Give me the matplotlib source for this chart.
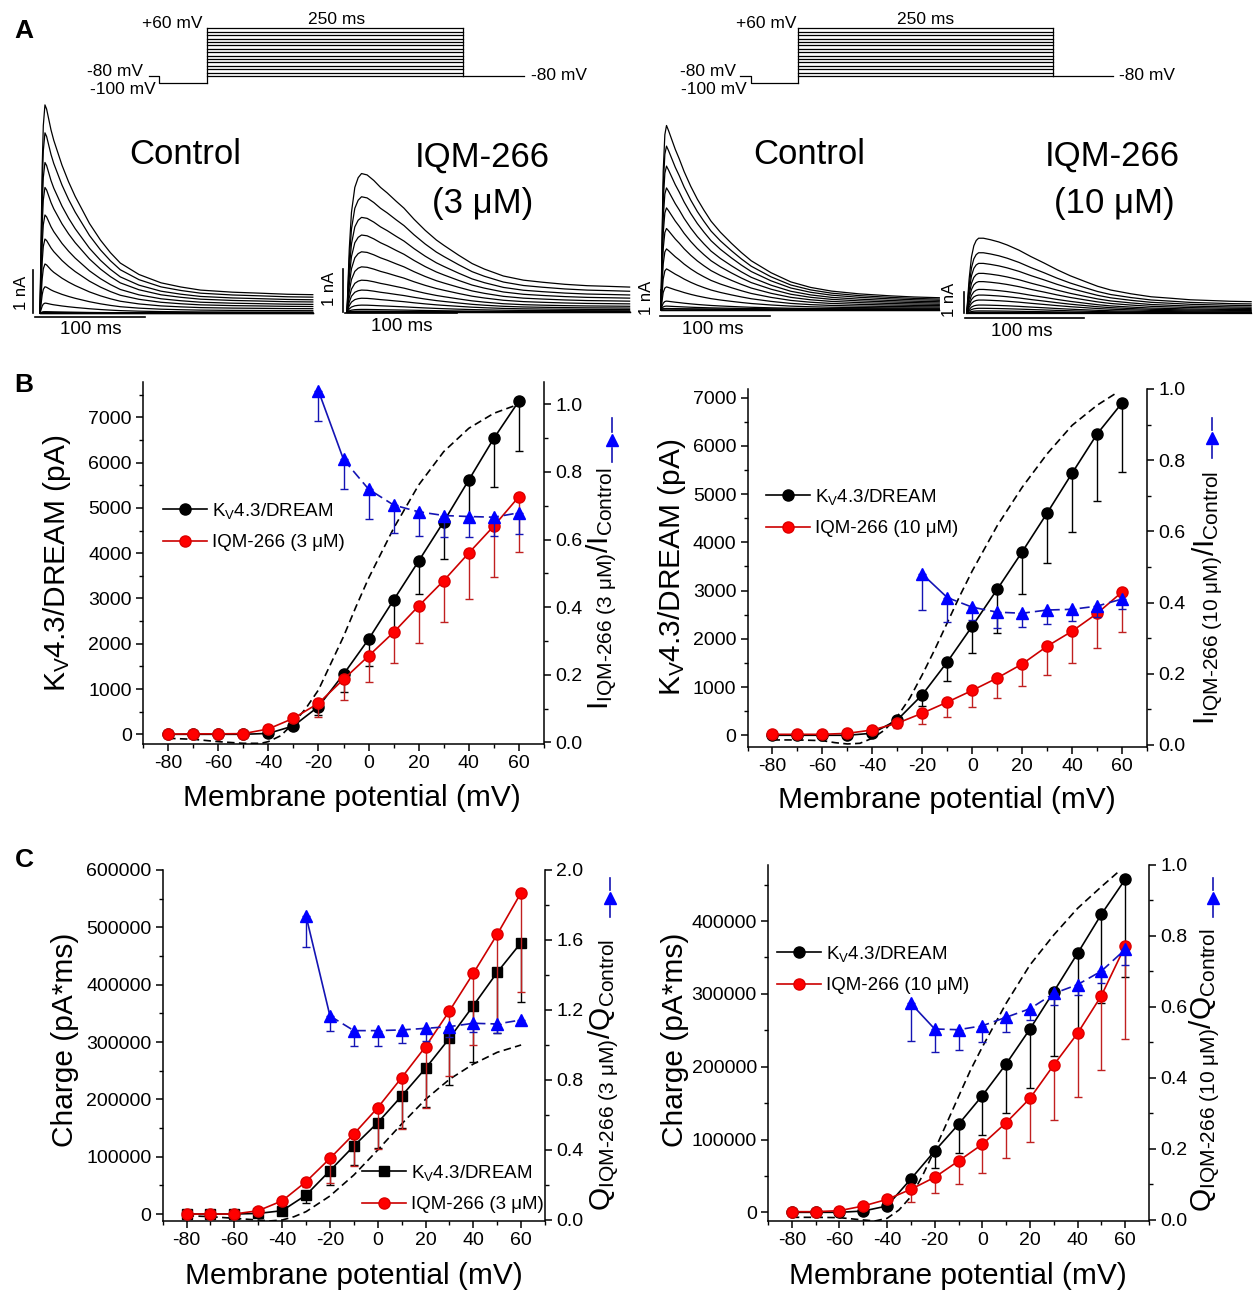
import numpy as np
import matplotlib
matplotlib.use("Agg")
import matplotlib.pyplot as plt
from matplotlib.lines import Line2D
from matplotlib.ticker import MultipleLocator

plt.rcParams['font.family'] = ['Liberation Sans', 'DejaVu Sans']
plt.rcParams['mathtext.fontset'] = 'custom'
plt.rcParams['mathtext.rm'] = 'Liberation Sans'
plt.rcParams['mathtext.it'] = 'Liberation Sans:italic'
plt.rcParams['mathtext.bf'] = 'Liberation Sans:bold'
plt.rcParams['axes.unicode_minus'] = False

W, H = 1258, 1300
BLUE, BLUE_L = '#0000ff', '#1414b4'
RED, RED_L = '#ff0000', '#cc0000'

# ---------------- data: panel A ----------------
# pulse protocol (ms, mV)
prot_t = [0, 10.5, 57, 307, 366]
prot_steps = [-80, -70, -60, -50, -40, -30, -20, -10, 0, 10, 20, 30, 40, 50, 60]

# normalised waveform of the largest sweep, time in ms from pulse onset
ctrl3_t = [0, 1, 2, 3, 4.5, 6, 8, 10, 12.5, 15, 20, 26, 32, 37, 45, 55, 64, 73, 90,
           110, 128, 146, 175, 201, 225, 248]
ctrl3_f = [0, 0.35, 0.7, 0.9, 1.0, 0.98, 0.93, 0.88, 0.83, 0.79, 0.71, 0.63, 0.56, 0.51,
           0.43, 0.35, 0.29, 0.24, 0.185, 0.145, 0.125, 0.11, 0.10, 0.095, 0.09, 0.088]
iqm3_t = [0, 2, 4, 7, 10, 13, 18, 24, 30, 36, 44, 51, 60, 70, 80, 87, 100, 112, 123,
          140, 158, 175, 195, 215, 235, 253]
iqm3_f = [0, 0.45, 0.72, 0.9, 0.97, 1.0, 0.99, 0.95, 0.90, 0.86, 0.80, 0.75, 0.67, 0.59,
          0.52, 0.48, 0.41, 0.35, 0.31, 0.26, 0.23, 0.215, 0.20, 0.19, 0.185, 0.18]
ctrl10_t = [0, 1, 2, 3.5, 5, 7, 10, 13, 16.5, 21, 27, 33, 39, 45.5, 54, 64, 73, 82, 100,
            118, 136, 155, 180, 209, 230, 253]
ctrl10_f = [0, 0.4, 0.75, 0.95, 1.0, 0.97, 0.92, 0.87, 0.82, 0.75, 0.67, 0.6, 0.54, 0.48,
            0.42, 0.36, 0.31, 0.265, 0.2, 0.15, 0.12, 0.10, 0.085, 0.074, 0.068, 0.064]
iqm10_t = [0, 2, 4, 6, 8, 10, 14, 20, 27, 34, 44, 54, 65, 76, 87, 100, 110, 121, 138,
           155, 172, 188, 205, 222, 239]
iqm10_f = [0, 0.45, 0.75, 0.9, 0.97, 1.0, 1.0, 0.98, 0.95, 0.91, 0.84, 0.755, 0.67, 0.58,
           0.50, 0.42, 0.36, 0.31, 0.26, 0.22, 0.2, 0.18, 0.17, 0.16, 0.155]

# peak amplitude of each sweep (nA), +60 mV first
ctrl3_amp = [4.84, 4.19, 3.5, 2.92, 2.28, 1.72, 1.14, 0.61, 0.23, 0.03, 0.02, 0.01, 0, 0, 0]
iqm3_amp = [3.22, 2.68, 2.2, 1.79, 1.4, 1.05, 0.74, 0.51, 0.32, 0.16, 0.06, 0.02, 0.01, 0, 0]
ctrl10_amp = [9.2, 8.17, 7.17, 6.08, 5.08, 4.05, 3.03, 2.03, 1.13, 0.42, 0.17, 0.05, 0.02, 0, 0]
iqm10_amp = [3.46, 2.79, 2.3, 1.84, 1.46, 1.1, 0.84, 0.61, 0.38, 0.23, 0.11, 0.05, 0.02, 0.01, 0]

# ---------------- data: panels B and C ----------------
mv = [-80, -70, -60, -50, -40, -30, -20, -10, 0, 10, 20, 30, 40, 50, 60]

# B, 3 uM
kv_b3 = [0, 0, 0, 0, 20, 184, 611, 1325, 2098, 2966, 3827, 4696, 5616, 6536, 7360]
kv_b3_err = [0, 0, 0, 0, 0, 40, 190, 383, 600, 750, 728, 824, 900, 1080, 1100]
iqm_b3 = [5, 10, 10, 15, 118, 353, 685, 1214, 1730, 2252, 2834, 3393, 4004, 4600, 5248]
iqm_b3_err = [0, 0, 0, 0, 0, 60, 295, 456, 582, 684, 825, 905, 1016, 1119, 1214]
ratio_b3_mv = [-20, -10, 0, 10, 20, 30, 40, 50, 60]
ratio_b3 = [1.040, 0.837, 0.749, 0.702, 0.682, 0.671, 0.668, 0.666, 0.679]
ratio_b3_err = [0.088, 0.087, 0.088, 0.084, 0.072, 0.065, 0.060, 0.055, 0.063]
dash_b3_mv = [-80, -70, -60, -50, -43, -40, -35, -30, -25, -20, -15, -10, -5, 0, 10, 20,
              30, 40, 50, 58]
dash_b3 = [-88, -110, -162, -199, -199, -162, -30, 243, 574, 979, 1568, 2157, 2819, 3445,
           4549, 5506, 6242, 6757, 7088, 7250]

# B, 10 uM
kv_b10 = [0, 0, 0, 0, 42, 319, 840, 1520, 2262, 3026, 3803, 4608, 5434, 6246, 6891]
kv_b10_err = [0, 0, 0, 0, 0, 60, 240, 403, 555, 902, 881, 1041, 1215, 1381, 1436]
iqm_b10 = [20, 20, 20, 40, 110, 250, 458, 687, 930, 1187, 1478, 1846, 2158, 2526, 2970]
iqm_b10_err = [0, 0, 0, 0, 0, 100, 229, 298, 347, 417, 465, 604, 659, 715, 833]
ratio_b10_mv = [-20, -10, 0, 10, 20, 30, 40, 50, 60]
ratio_b10 = [0.480, 0.414, 0.387, 0.373, 0.370, 0.379, 0.381, 0.390, 0.410]
ratio_b10_err = [0.101, 0.070, 0.037, 0.045, 0.038, 0.039, 0.032, 0.030, 0.029]
dash_b10_mv = [-80, -70, -60, -55, -50, -45, -40, -35, -30, -25, -20, -15, -10, -5, 0, 10,
               20, 30, 40, 50, 58]
dash_b10 = [-97, -97, -111, -153, -180, -167, -62, 111, 389, 770, 1256, 1777, 2332, 2887,
            3407, 4344, 5142, 5836, 6426, 6843, 7106]

# C, 3 uM
kv_c3 = [0, 0, 0, 1000, 5800, 33000, 75600, 118600, 159300, 205800, 254000, 306400,
         363400, 421500, 473300]
kv_c3_err = [0, 0, 0, 0, 2000, 13200, 25000, 33100, 43600, 56400, 68000, 81400, 97700,
             105000, 103300]
iqm_c3 = [0, 0, 0, 5800, 23000, 56400, 97000, 139500, 185500, 237800, 291900, 354100,
          419800, 487800, 560500]
iqm_c3_err = [0, 0, 0, 0, 0, 10000, 43500, 55800, 72700, 90100, 106400, 113400, 125000,
              157000, 172700]
ratio_c3_mv = [-30, -20, -10, 0, 10, 20, 30, 40, 50, 60]
ratio_c3 = [1.737, 1.166, 1.082, 1.082, 1.086, 1.095, 1.105, 1.124, 1.120, 1.143]
ratio_c3_err = [0.175, 0.086, 0.088, 0.086, 0.076, 0.070, 0.057, 0.048, 0.053, 0.029]
dash_c3_mv = [-80, -70, -60, -50, -45, -40, -35, -30, -20, -10, 0, 10, 20, 30, 40, 50, 60]
dash_c3 = [-2900, -4650, -7560, -10500, -12000, -10500, -4650, 4070, 31400, 68000, 111600,
           157000, 200000, 234900, 261600, 282000, 294800]

# C, 10 uM
kv_c10 = [0, 0, 0, 1800, 8700, 45800, 84200, 120800, 160200, 203700, 251700, 303000,
          355600, 409200, 457200]
kv_c10_err = [0, 0, 0, 0, 0, 5000, 23800, 40000, 54000, 67800, 81400, 89000, 110000,
              122000, 133600]
iqm_c10 = [900, 900, 2300, 8700, 17800, 31600, 48100, 70500, 93400, 123100, 156500,
           202300, 245800, 297500, 365700]
iqm_c10_err = [0, 0, 0, 0, 0, 17000, 22000, 31600, 38900, 49000, 59500, 75500, 87000,
               102100, 127700]
ratio_c10_mv = [-30, -20, -10, 0, 10, 20, 30, 40, 50, 60]
ratio_c10 = [0.610, 0.538, 0.536, 0.547, 0.571, 0.595, 0.638, 0.663, 0.701, 0.762]
ratio_c10_err = [0.107, 0.066, 0.056, 0.046, 0.042, 0.031, 0.033, 0.030, 0.033, 0.045]
dash_c10_mv = [-80, -70, -60, -50, -45, -40, -35, -30, -25, -20, -15, -10, -5, 0, 10, 20,
               30, 40, 50, 58]
dash_c10 = [-6860, -6860, -7300, -10500, -11800, -8240, 3200, 21500, 51000, 85600, 122000,
            158800, 195000, 227000, 287000, 339600, 380800, 417400, 447100, 470000]

fig = plt.figure(figsize=(W / 100, H / 100), dpi=100)


def px_axes(x0, x1, y0, y1):
    # axes placed by pixel box (y measured from the top)
    return fig.add_axes([x0 / W, 1 - y1 / H, (x1 - x0) / W, (y1 - y0) / H])


def ftext(x, y, s, **kw):
    fig.text(x / W, 1 - y / H, s, **kw)


# ---------------- panel A ----------------
def protocol(x0, x1):
    ax = px_axes(x0, x1, 28.3, 82.8)
    ax.set_xlim(prot_t[0], prot_t[-1])
    ax.set_ylim(-100, 60)
    ax.axis('off')
    kw = dict(color='k', lw=0.9, clip_on=False)
    ax.plot([prot_t[0], prot_t[1], prot_t[1], prot_t[2]], [-80, -80, -100, -100], **kw)
    ax.plot([prot_t[2], prot_t[2]], [-100, max(prot_steps)], **kw)
    ax.plot([prot_t[3], prot_t[3]], [-80, max(prot_steps)], **kw)
    for v in prot_steps:
        ax.plot([prot_t[2], prot_t[3]], [v, v], **kw)
    ax.plot([prot_t[3], prot_t[4]], [-80, -80], **kw)


def traces(t0, base, px_ms, px_na, st, sf, amps, vbar_t, hbar_y, hbar_t0):
    ax = px_axes(t0 - 15, t0 + 300, 95, 335)
    ax.set_xlim(-15 / px_ms, 300 / px_ms)
    ax.set_ylim((base - 335) / px_na, (base - 95) / px_na)
    ax.axis('off')
    sf = np.array(sf)
    for a in amps:
        ax.plot(st, a * sf, color='k', lw=0.9)
    ax.plot([vbar_t, vbar_t], [0, 1], color='k', lw=1.2)
    ax.plot([hbar_t0, hbar_t0 + 100], [hbar_y, hbar_y], color='k', lw=1.2)


protocol(148.6, 524)
protocol(740, 1112.6)
traces(40, 313, 1.10, 43, ctrl3_t, ctrl3_f, ctrl3_amp, -6.1, -0.086, -4.5)
traces(347, 312, 1.117, 43, iqm3_t, iqm3_f, iqm3_amp, -3.3, -0.02, -1.8)
traces(661, 309.5, 1.10, 20, ctrl10_t, ctrl10_f, ctrl10_amp, 0.0, -0.33, -0.9)
traces(966.7, 313.3, 1.19, 21.7, iqm10_t, iqm10_f, iqm10_amp, -2.0, -0.23, -1.4)

vfs = 12.5
for (x, y, s) in [(172.7, 24, '+60 mV'), (336.5, 19, '250 ms'), (115, 72, '-80 mV'),
                  (122.5, 90, '-100 mV'), (559, 75, '-80 mV'),
                  (766, 24, '+60 mV'), (926, 19, '250 ms'), (708, 72, '-80 mV'),
                  (713.5, 90, '-100 mV'), (1146.6, 75, '-80 mV')]:
    ftext(x, y, s, fontsize=vfs, ha='center', va='center')

big = 25
ftext(185.7, 154, 'Control', fontsize=big, ha='center', va='center')
ftext(482, 157, 'IQM-266', fontsize=big, ha='center', va='center')
ftext(483, 204, '(3 μM)', fontsize=big, ha='center', va='center')
ftext(809, 154, 'Control', fontsize=big, ha='center', va='center')
ftext(1112, 156, 'IQM-266', fontsize=big, ha='center', va='center')
ftext(1114.5, 204, '(10 μM)', fontsize=big, ha='center', va='center')

for (x, y) in [(90.7, 330), (402, 327), (712.7, 330), (1021.7, 331.7)]:
    ftext(x, y, '100 ms', fontsize=13.5, ha='center', va='center')
for (x, y) in [(21, 293), (330, 289), (646.7, 298), (949, 300)]:
    ftext(x, y, '1 nA', fontsize=12, ha='center', va='center', rotation=90)

# ---------------- panels B and C ----------------
tick_fs = 14
lab_fs = 21.5
leg_fs = 13.5


def style(ax, side):
    ax.tick_params(axis='both', which='major', direction='out', length=5, width=1.1,
                   labelsize=tick_fs, pad=3)
    ax.tick_params(axis='both', which='minor', direction='out', length=2.8, width=1.0)
    for s in ax.spines.values():
        s.set_linewidth(1.1)
    ax.spines['top'].set_visible(False)
    if side == 'left':
        ax.spines['right'].set_visible(False)
    else:
        ax.spines['left'].set_visible(False)
        ax.spines['bottom'].set_visible(False)


def iv_panel(box, ylim, ymaj, yr_lim, yrmaj, kv, kv_err, iqm, iqm_err, r_mv, ratio,
             ratio_err, d_mv, dash, kv_marker, iqm_label, leg_xy):
    ax = px_axes(*box)
    ax.plot(d_mv, dash, ls=(0, (4.5, 2.6)), color='k', lw=1.2, zorder=1)
    ax.errorbar(mv, kv, yerr=[kv_err, [0] * len(kv)], color='k', lw=1.2, elinewidth=1.0,
                capsize=3, capthick=1.0, marker=kv_marker, ms=8 if kv_marker == 'o' else 7,
                mfc='k', mec='k', zorder=3)
    ax.errorbar(mv, iqm, yerr=[iqm_err, [0] * len(iqm)], color=RED_L, ecolor='#c02020',
                lw=1.2, elinewidth=1.0, capsize=3, capthick=1.0, marker='o', ms=8,
                mfc=RED, mec='#dd0000', zorder=4)
    ax.set_xlim(-90, 70)
    ax.set_ylim(*ylim)
    ax.xaxis.set_major_locator(MultipleLocator(20))
    ax.xaxis.set_minor_locator(MultipleLocator(10))
    ax.yaxis.set_major_locator(MultipleLocator(ymaj))
    ax.yaxis.set_minor_locator(MultipleLocator(ymaj / 2))
    style(ax, 'left')

    ax2 = ax.twinx()
    ax2.errorbar(r_mv, ratio, yerr=[ratio_err, [0] * len(ratio)], fmt='none',
                 ecolor=BLUE_L, elinewidth=1.0, capsize=3, capthick=1.0, zorder=2)
    ax2.plot(r_mv[:2], ratio[:2], color=BLUE_L, lw=1.2, zorder=3)
    ax2.plot(r_mv[1:], ratio[1:], color=BLUE_L, lw=1.2, ls=(0, (6, 3)), zorder=3)
    ax2.plot(r_mv, ratio, ls='none', marker='^', ms=9, mfc=BLUE, mec=BLUE, zorder=4)
    ax2.set_ylim(*yr_lim)
    ax2.yaxis.set_major_locator(MultipleLocator(yrmaj))
    ax2.yaxis.set_minor_locator(MultipleLocator(yrmaj / 2))
    ax2.yaxis.set_major_formatter(matplotlib.ticker.FormatStrFormatter('%.1f'))
    style(ax2, 'right')

    handles = [Line2D([], [], color='k', lw=1.2, marker=kv_marker,
                      ms=8 if kv_marker == 'o' else 7, mfc='k', mec='k'),
               Line2D([], [], color=RED_L, lw=1.2, marker='o', ms=8, mfc=RED, mec='#dd0000')]
    ax2.legend(handles, [r'K$_\mathrm{V}$4.3/DREAM', iqm_label], loc='upper left',
               bbox_to_anchor=(leg_xy[0] / W, 1 - leg_xy[1] / H),
               bbox_transform=fig.transFigure, frameon=False, fontsize=leg_fs,
               handlelength=2.35, handletextpad=0.25, borderpad=0, borderaxespad=0,
               labelspacing=0.7)
    return ax, ax2


iv_panel((143, 544, 382, 744), (-214, 7779), 1000, (-0.005, 1.066), 0.2,
         kv_b3, kv_b3_err, iqm_b3, iqm_b3_err, ratio_b3_mv, ratio_b3, ratio_b3_err,
         dash_b3_mv, dash_b3, 'o', 'IQM-266 (3 μM)', (163, 501))
iv_panel((747.5, 1147, 389, 746.7), (-237, 7180), 1000, (-0.005, 1.0), 0.2,
         kv_b10, kv_b10_err, iqm_b10, iqm_b10_err, ratio_b10_mv, ratio_b10, ratio_b10_err,
         dash_b10_mv, dash_b10, 'o', 'IQM-266 (10 μM)', (766, 487))
iv_panel((162.7, 545, 870, 1221), (-12200, 600000), 100000, (-0.006, 2.0), 0.4,
         kv_c3, kv_c3_err, iqm_c3, iqm_c3_err, ratio_c3_mv, ratio_c3, ratio_c3_err,
         dash_c3_mv, dash_c3, 's', 'IQM-266 (3 μM)', (362, 1163))
iv_panel((768, 1149, 865, 1221), (-11900, 476900), 100000, (-0.003, 1.0), 0.2,
         kv_c10, kv_c10_err, iqm_c10, iqm_c10_err, ratio_c10_mv, ratio_c10, ratio_c10_err,
         dash_c10_mv, dash_c10, 'o', 'IQM-266 (10 μM)', (777, 944))

# axis labels
ftext(352, 798, 'Membrane potential (mV)', fontsize=lab_fs, ha='center', va='center')
ftext(947, 800, 'Membrane potential (mV)', fontsize=lab_fs, ha='center', va='center')
ftext(354, 1276, 'Membrane potential (mV)', fontsize=lab_fs, ha='center', va='center')
ftext(958, 1276, 'Membrane potential (mV)', fontsize=lab_fs, ha='center', va='center')
ftext(57, 563, r'K$_\mathrm{V}$4.3/DREAM (pA)', fontsize=lab_fs, ha='center',
      va='center', rotation=90)
ftext(672, 567, r'K$_\mathrm{V}$4.3/DREAM (pA)', fontsize=lab_fs, ha='center',
      va='center', rotation=90)
ftext(65, 1040, 'Charge (pA*ms)', fontsize=lab_fs, ha='center', va='center', rotation=90)
ftext(675, 1040, 'Charge (pA*ms)', fontsize=lab_fs, ha='center', va='center', rotation=90)

ftext(602, 589, r'$\mathrm{I_{IQM‐266\ (3\ μM)}/I_{Control}}$', fontsize=lab_fs,
      ha='center', va='center', rotation=90)
ftext(1208, 598, r'$\mathrm{I_{IQM‐266\ (10\ μM)}/I_{Control}}$', fontsize=lab_fs,
      ha='center', va='center', rotation=90)
ftext(604, 1075, r'$\mathrm{Q_{IQM‐266\ (3\ μM)}/Q_{Control}}$', fontsize=lab_fs,
      ha='center', va='center', rotation=90)
ftext(1205, 1070, r'$\mathrm{Q_{IQM‐266\ (10\ μM)}/Q_{Control}}$', fontsize=lab_fs,
      ha='center', va='center', rotation=90)

# little blue line-and-triangle keys at the top of the right-hand labels
ov = fig.add_axes([0, 0, 1, 1])
ov.set_xlim(0, W)
ov.set_ylim(H, 0)
ov.axis('off')
for (x, y0, y1) in [(612, 418, 462), (1212, 418, 458), (610, 878, 917), (1212.5, 878, 917)]:
    ym = (y0 + y1) / 2
    ov.plot([x, x], [y0, ym - 8], color=BLUE_L, lw=1.2)
    ov.plot([x, x], [ym + 8, y1], color=BLUE_L, lw=1.2)
    ov.plot([x], [ym], marker='^', ms=9, color=BLUE)

# panel letters
for (x, y, s) in [(24, 31, 'A'), (24, 385, 'B'), (24, 860, 'C')]:
    ftext(x, y, s, fontsize=19, fontweight='bold', ha='center', va='center')

fig.savefig('out.png', dpi=100)
